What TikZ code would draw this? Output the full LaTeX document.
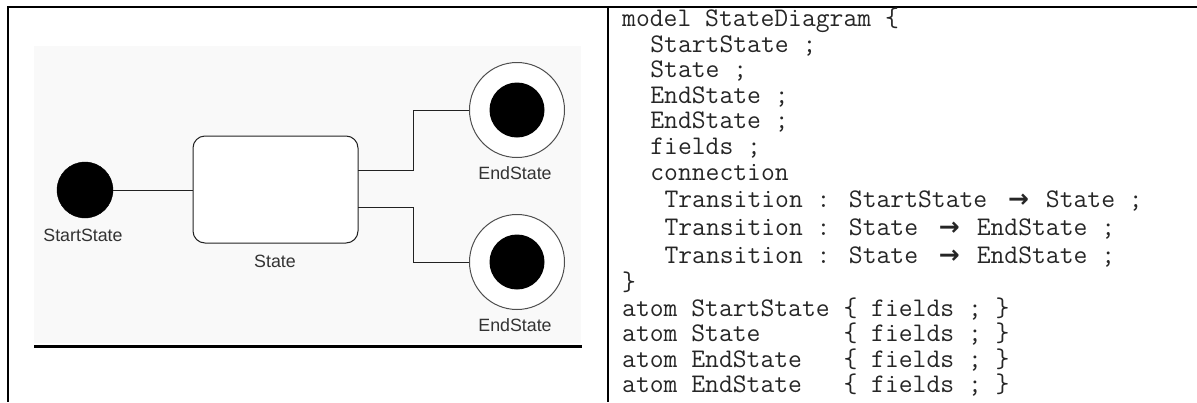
\documentclass[tikz,border=0pt]{standalone}
\usepackage{fontspec}
\newfontfamily\labf{Liberation Sans}
\newfontfamily\arrowf{DejaVu Sans}
\definecolor{bgg}{HTML}{F9F9F9}
\definecolor{lab}{HTML}{333333}
\definecolor{ln}{HTML}{222222}
\newcommand{\arr}{\makebox[31pt][l]{\hspace{7pt}\raisebox{0pt}{\arrowf\bfseries\fontsize{25}{25}\selectfont →}}}
\tikzset{
  code/.style={anchor=base west,inner sep=0pt,text=black!85,font=\ttfamily\fontsize{26.86}{28}\selectfont},
  lbl/.style={anchor=base,inner sep=0pt,text=lab,font=\labf\fontsize{17.8}{20}\selectfont},
  wire/.style={draw=ln,line width=1pt},
  border/.style={line width=2pt,black},
}
\begin{document}
\begin{tikzpicture}[x=1pt,y=-1pt]
\useasboundingbox (0,0) rectangle (1197,402);
% table borders
\draw[border] (7,6.5) -- (1197,6.5);
\draw[border] (8,6.5) -- (8,402);
\draw[border] (607.5,6.5) -- (607.5,402);
% left cell
\fill[bgg] (34,46) rectangle (581,343);
\draw[line width=3pt] (34,346.5) -- (582,346.5);
% diagram
\node[circle,fill=black,draw=black,minimum size=56pt,inner sep=0pt] (start) at (85,190) {};
\node[draw=ln,line width=1pt,rounded corners=12pt,fill=white,minimum width=165pt,minimum height=107pt,inner sep=0pt] (state) at (275.5,189.5) {};
\node[circle,draw=ln!80,line width=1pt,fill=white,minimum size=95pt,inner sep=0pt] (end1) at (517,110) {};
\node[circle,fill=black,minimum size=55pt,inner sep=0pt] (end1i) at (end1) {};
\node[circle,draw=ln!80,line width=1pt,fill=white,minimum size=95pt,inner sep=0pt] (end2) at (517,262) {};
\node[circle,fill=black,minimum size=55pt,inner sep=0pt] (end2i) at (end2) {};
\coordinate (s1) at (358,170);
\coordinate (s2) at (358,207);
\coordinate (k1) at (413,170);
\coordinate (k2) at (413,207);
\draw[wire] (start.east) -- (start.east -| state.west);
\draw[wire] (s1) -- (k1) |- (end1.west);
\draw[wire] (s2) -- (k2) |- (end2.west);
\node[lbl] (lstart) at (83,241) {StartState};
\node[lbl] (lstate) at (275,267) {State};
\node[lbl] (lend1) at (515,179) {EndState};
\node[lbl] (lend2) at (515,331) {EndState};
% code
\node[code] (c1) at (622,26) {model StateDiagram \{};
\node[code] (c2) at (650.2,52) {StartState ;};
\node[code] (c3) at (650.2,77.5) {State ;};
\node[code] (c4) at (650.2,103) {EndState ;};
\node[code] (c5) at (650.2,128.5) {EndState ;};
\node[code] (c6) at (650.2,154) {fields ;};
\node[code] (c7) at (650.2,180) {connection};
\node[code] (c8) at (664.3,207) {Transition : StartState \arr{} State ;};
\node[code] (c9) at (664.3,235.5) {Transition : State \arr{} EndState ;};
\node[code] (c10) at (664.3,263) {Transition : State \arr{} EndState ;};
\node[code] (c11) at (622,290) {\}};
\node[code] (c12) at (622,316) {atom StartState \{ fields ; \}};
\node[code] (c13) at (622,341) {atom State\ \ \ \ \ \ \{ fields ; \}};
\node[code] (c14) at (622,367) {atom EndState\ \ \ \{ fields ; \}};
\node[code] (c15) at (622,392) {atom EndState\ \ \ \{ fields ; \}};
\end{tikzpicture}
\end{document}
